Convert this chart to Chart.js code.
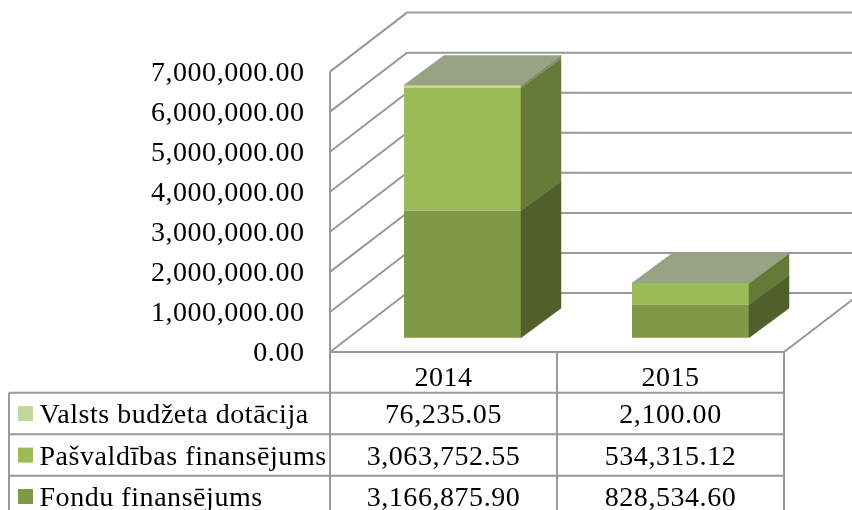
<!DOCTYPE html>
<html>
<head>
<meta charset="utf-8">
<style>html,body{margin:0;padding:0;background:#fff;overflow:hidden}canvas{display:block}</style>
<script src="https://cdn.jsdelivr.net/npm/chart.js@4"></script>
</head>
<body>
<canvas id="c" width="852" height="510"></canvas>
<script>
const categories = ['2014', '2015'];
const seriesNames = ['Valsts budžeta dotācija', 'Pašvaldības finansējums', 'Fondu finansējums'];
const valstsValues = [76235.05, 2100.00];
const pasvaldibasValues = [3063752.55, 534315.12];
const fonduValues = [3166875.90, 828534.60];
const yTicksMax = 7000000;
const yTickStep = 1000000;

const frontColors = ['#C3D69B', '#9BBB59', '#7F9948'];
const sideColors = ['#7F8E66', '#657A37', '#515F2D'];
const topColor = '#98A284';
const gridColor = '#999999';
const font = '"Liberation Serif"';
const fontSize = 28;

const wallDepth = {x: 77, y: -59};
const barDepth = {x: 40, y: -29.5};
const plane = {sx: 228 / 227, tx: 17.05, ty: -14.3};
const fmt = v => v.toLocaleString('en-US', {minimumFractionDigits: 2, maximumFractionDigits: 2});

const allValues = [valstsValues, pasvaldibasValues, fonduValues];

const scene = {
  id: 'scene',
  beforeDraw(chart) {
    chart.ctx.letterSpacing = '0.55px';
  },
  beforeDatasetsDraw(chart) {
    const {ctx, chartArea: a, scales: {y}} = chart;
    ctx.save();
    ctx.strokeStyle = gridColor;
    ctx.lineWidth = 2;
    ctx.beginPath();
    y.ticks.forEach((t, i) => {
      const p = y.getPixelForTick(i);
      ctx.moveTo(a.left, p);
      ctx.lineTo(a.left + wallDepth.x, p + wallDepth.y);
      ctx.lineTo(852, p + wallDepth.y);
    });
    ctx.moveTo(a.left, a.top);
    ctx.lineTo(a.left, a.bottom);
    ctx.moveTo(a.left, a.bottom);
    ctx.lineTo(a.right, a.bottom);
    ctx.lineTo(a.right + wallDepth.x, a.bottom + wallDepth.y);
    ctx.stroke();
    ctx.restore();
    ctx.save();
    ctx.transform(plane.sx, 0, 0, 1, plane.tx, plane.ty);
  },
  afterDatasetsDraw(chart) {
    const ctx = chart.ctx;
    ctx.restore();
    const toX = x => plane.sx * x + plane.tx;
    const toY = y => y + plane.ty;
    const poly = (pts, color) => {
      ctx.fillStyle = color;
      ctx.strokeStyle = color;
      ctx.lineWidth = 0.5;
      ctx.beginPath();
      pts.forEach((p, i) => i ? ctx.lineTo(p[0], p[1]) : ctx.moveTo(p[0], p[1]));
      ctx.closePath();
      ctx.fill();
      ctx.stroke();
    };
    ctx.save();
    categories.forEach((c, ci) => {
      let topY = Infinity, x0 = 0, x1 = 0;
      chart.data.datasets.forEach((ds, di) => {
        const el = chart.getDatasetMeta(di).data[ci];
        x0 = toX(el.x - el.width / 2);
        x1 = toX(el.x + el.width / 2);
        const t = toY(el.y), b = toY(el.base);
        topY = Math.min(topY, t);
        poly([[x1, b], [x1 + barDepth.x, b + barDepth.y], [x1 + barDepth.x, t + barDepth.y], [x1, t]], sideColors[seriesNames.indexOf(ds.label)]);
      });
      poly([[x0, topY], [x1, topY], [x1 + barDepth.x, topY + barDepth.y], [x0 + barDepth.x, topY + barDepth.y]], topColor);
    });
    ctx.restore();
  },
  afterDraw(chart) {
    const {ctx, chartArea: a, scales: {x}} = chart;
    const tableLeft = 9, rowTops = [392.7, 434.3, 475.7], colMid = 557, bottom = 510;
    ctx.save();
    ctx.strokeStyle = gridColor;
    ctx.lineWidth = 2;
    ctx.beginPath();
    rowTops.forEach(r => { ctx.moveTo(tableLeft, r); ctx.lineTo(a.right, r); });
    ctx.moveTo(tableLeft, rowTops[0]); ctx.lineTo(tableLeft, bottom);
    ctx.moveTo(a.left, a.bottom); ctx.lineTo(a.left, bottom);
    [colMid, a.right].forEach(v => { ctx.moveTo(v, a.bottom); ctx.lineTo(v, bottom); });
    ctx.stroke();
    ctx.font = fontSize + 'px ' + font;
    ctx.textBaseline = 'alphabetic';
    seriesNames.forEach((name, r) => {
      const base = rowTops[r] + 30.4;
      ctx.fillStyle = frontColors[r];
      ctx.fillRect(18, rowTops[r] + 13.3, 15, 15);
      ctx.fillStyle = '#000';
      ctx.textAlign = 'left';
      ctx.fillText(name, 39.5, base);
      ctx.textAlign = 'center';
      categories.forEach((c, ci) => {
        ctx.fillText(fmt(allValues[r][ci]), x.getPixelForTick(ci), base);
      });
    });
    ctx.restore();
  }
};

new Chart(document.getElementById('c'), {
  type: 'bar',
  plugins: [scene],
  data: {
    labels: categories,
    datasets: [
      {label: seriesNames[2], data: fonduValues, backgroundColor: frontColors[2], stack: 's', clip: false},
      {label: seriesNames[1], data: pasvaldibasValues, backgroundColor: frontColors[1], stack: 's', clip: false},
      {label: seriesNames[0], data: valstsValues, backgroundColor: frontColors[0], stack: 's', clip: false}
    ]
  },
  options: {
    responsive: false,
    animation: false,
    events: [],
    barPercentage: 0.5131,
    categoryPercentage: 1,
    layout: {padding: {top: 71.6, right: 68, left: 0, bottom: 0}},
    plugins: {legend: {display: false}, tooltip: {enabled: false}, title: {display: false}},
    scales: {
      x: {
        stacked: true,
        grid: {display: false, drawTicks: false},
        border: {display: false},
        ticks: {color: '#000', font: {family: font, size: fontSize}, padding: 10, maxRotation: 0, autoSkip: false},
        afterFit(s) { s.height = 158; }
      },
      y: {
        stacked: true,
        min: 0,
        max: yTicksMax,
        grid: {display: false, drawTicks: false},
        border: {display: false},
        ticks: {
          stepSize: yTickStep,
          color: '#000',
          font: {family: font, size: fontSize},
          padding: 25.5,
          labelOffset: 2,
          callback: v => fmt(v)
        },
        afterFit(s) { s.width = 330; }
      }
    }
  }
});
</script>
</body>
</html>
